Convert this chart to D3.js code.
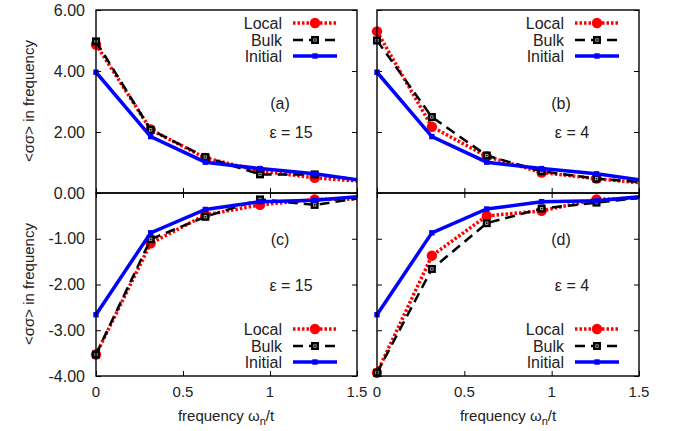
<!DOCTYPE html>
<html><head><meta charset="utf-8">
<script src="https://cdn.jsdelivr.net/npm/d3@7"></script>
<style>body{margin:0;background:#fff}svg{display:block}text{font-family:"Liberation Sans",Arial,sans-serif;fill:#222}</style>
</head><body><svg id="c" width="674" height="431"></svg>
<script>
// ---- data ----
const freqs = [0, 0.31416, 0.62832, 0.94248, 1.25664, 1.5708];
const xTicks = [0, 0.5, 1, 1.5];
const xTickLabels = ["0", "0.5", "1", "1.5"];
const yTicksTop = [0, 2, 4, 6];
const yTickLabelsTop = ["0.00", "2.00", "4.00", "6.00"];
const yTicksBottom = [-4, -3, -2, -1];
const yTickLabelsBottom = ["-4.00", "-3.00", "-2.00", "-1.00"];
const seriesNames = ["Local", "Bulk", "Initial"];
const panelLabels = ["(a)", "(b)", "(c)", "(d)"];
const epsLabels = ["ε = 15", "ε = 4", "ε = 15", "ε = 4"];
const localA = [4.87, 2.08, 1.15, 0.72, 0.50, 0.36];
const bulkA  = [4.97, 2.07, 1.18, 0.61, 0.61, 0.40];
const initA  = [3.96, 1.85, 1.01, 0.80, 0.63, 0.38];
const localB = [5.30, 2.17, 1.20, 0.67, 0.47, 0.30];
const bulkB  = [5.00, 2.49, 1.23, 0.71, 0.47, 0.33];
const initB  = [3.96, 1.85, 1.01, 0.80, 0.63, 0.38];
const localC = [-3.53, -1.10, -0.48, -0.26, -0.14, -0.13];
const bulkC  = [-3.53, -1.01, -0.52, -0.14, -0.26, -0.08];
const initC  = [-2.66, -0.87, -0.36, -0.19, -0.16, -0.06];
const localD = [-3.93, -1.37, -0.50, -0.39, -0.14, -0.10];
const bulkD  = [-3.93, -1.66, -0.66, -0.34, -0.21, -0.08];
const initD  = [-2.66, -0.87, -0.35, -0.19, -0.17, -0.06];

// ---- layout ----
const svg = d3.select("#c");
const cols = [{x0: 96, x1: 357}, {x0: 377, x1: 639}];
const rows = [{y0: 10, y1: 193, dom: [0, 6]}, {y0: 193, y1: 376, dom: [-4, 0]}];
const panels = [
  {c: 0, r: 0, s: [localA, bulkA, initA]},
  {c: 1, r: 0, s: [localB, bulkB, initB]},
  {c: 0, r: 1, s: [localC, bulkC, initC]},
  {c: 1, r: 1, s: [localD, bulkD, initD]}
];
const styles = [
  {color: "#ff0000", width: 3.5, dash: "2.5,2", marker: "circle"},
  {color: "#000000", width: 2.5, dash: "10,6", marker: "bsq"},
  {color: "#0000ff", width: 3.5, dash: null, marker: "sq"}
];

function marker(g, type, cx, cy, color) {
  if (type === "circle") g.append("circle").attr("cx", cx).attr("cy", cy).attr("r", 5.2).attr("fill", color);
  else if (type === "bsq") {
    g.append("rect").attr("x", cx - 4).attr("y", cy - 4).attr("width", 8).attr("height", 8).attr("fill", "#000");
    g.append("rect").attr("x", cx - 1.2).attr("y", cy - 1.2).attr("width", 2.4).attr("height", 2.4).attr("fill", "none").attr("stroke", "#ccc").attr("stroke-width", 0.7);
  } else g.append("rect").attr("x", cx - 2.7).attr("y", cy - 2.7).attr("width", 5.4).attr("height", 5.4).attr("fill", color);
}

panels.forEach((p, i) => {
  const col = cols[p.c], row = rows[p.r];
  const x = d3.scaleLinear().domain([0, 1.5]).range([col.x0, col.x1]);
  const y = d3.scaleLinear().domain(row.dom).range([row.y1, row.y0]);
  const g = svg.append("g");
  const cid = "clip" + i;
  svg.append("clipPath").attr("id", cid).append("rect")
    .attr("x", col.x0).attr("y", row.y0).attr("width", col.x1 - col.x0).attr("height", row.y1 - row.y0);

  // ticks (inward) via axes
  const yt = p.r === 0 ? yTicksTop : yTicksBottom;
  const yAxL = d3.axisRight(y).tickValues(yt).tickSize(5).tickFormat("");
  const yAxR = d3.axisLeft(y).tickValues(yt).tickSize(5).tickFormat("");
  [g.append("g").attr("transform", `translate(${col.x0},0)`).call(yAxL),
   g.append("g").attr("transform", `translate(${col.x1},0)`).call(yAxR)].forEach(a => {
     a.select(".domain").remove(); a.selectAll("line").attr("stroke", "#000");
   });
  const xAx = (p.r === 0 ? d3.axisTop(x) : d3.axisBottom(x)).tickValues(xTicks).tickSize(5).tickFormat("");
  const xa = g.append("g").attr("transform", `translate(0,${p.r === 0 ? row.y1 : row.y0})`).call(xAx);
  xa.select(".domain").remove(); xa.selectAll("line").attr("stroke", "#000");
  if (p.r === 1) {
    const xb = g.append("g").attr("transform", `translate(0,${row.y1})`).call(d3.axisTop(x).tickValues(xTicks).tickSize(5).tickFormat(""));
    xb.select(".domain").remove(); xb.selectAll("line").attr("stroke", "#000");
    // x tick labels
    xTicks.forEach((t, k) => g.append("text").attr("x", x(t)).attr("y", 397).attr("text-anchor", "middle")
      .attr("font-size", 15).text(xTickLabels[k]));
  }
  if (p.c === 0) {
    const labs = p.r === 0 ? yTickLabelsTop : yTickLabelsBottom;
    yt.forEach((t, k) => g.append("text").attr("x", 85).attr("y", y(t) + 5.5).attr("text-anchor", "end")
      .attr("font-size", 16).text(labs[k]));
  }

  // series
  const line = d3.line().x((d, k) => x(freqs[k])).y(d => y(d));
  p.s.forEach((vals, si) => {
    const st = styles[si];
    g.append("path").attr("d", line(vals)).attr("clip-path", `url(#${cid})`)
      .attr("fill", "none").attr("stroke", st.color).attr("stroke-width", st.width)
      .attr("stroke-dasharray", st.dash);
    vals.forEach((v, k) => { if (freqs[k] <= 1.5) marker(g, st.marker, x(freqs[k]), y(v), st.color); });
  });

  // frame
  g.append("rect").attr("x", col.x0).attr("y", row.y0).attr("width", col.x1 - col.x0).attr("height", row.y1 - row.y0)
    .attr("fill", "none").attr("stroke", "#000").attr("stroke-width", 1.4);

  // legend
  const ly = p.r === 0 ? [23, 40, 56] : [329, 346, 362];
  seriesNames.forEach((nm, si) => {
    const st = styles[si];
    g.append("text").attr("x", col.x1 - 75).attr("y", ly[si] + 5.5).attr("text-anchor", "end")
      .attr("font-size", 16).text(nm);
    g.append("line").attr("x1", col.x1 - 64).attr("x2", col.x1 - 20).attr("y1", ly[si]).attr("y2", ly[si])
      .attr("stroke", st.color).attr("stroke-width", st.width).attr("stroke-dasharray", st.dash);
    marker(g, st.marker, col.x1 - 42, ly[si], st.color);
  });

  // annotations
  const ay = p.r === 0 ? [103, 132] : [239, 285];
  g.append("text").attr("x", col.x0 + 184).attr("y", ay[0] + 5.5).attr("text-anchor", "middle").attr("font-size", 16).text(panelLabels[i]);
  g.append("text").attr("x", col.x0 + 195).attr("y", ay[1] + 5.5).attr("text-anchor", "middle").attr("font-size", 16).text(epsLabels[i]);
});

// axis titles
[101, 284].forEach(cy => svg.append("text").attr("transform", `translate(34,${cy}) rotate(-90)`)
  .attr("text-anchor", "middle").attr("font-size", 15).text("<σσ> in frequency"));
[226, 508].forEach(cx => {
  const t = svg.append("text").attr("x", cx).attr("y", 421).attr("text-anchor", "middle").attr("font-size", 15);
  t.append("tspan").text("frequency ω");
  t.append("tspan").attr("font-size", 11).attr("dy", 4).text("n");
  t.append("tspan").attr("dy", -4).text("/t");
});
</script></body></html>
